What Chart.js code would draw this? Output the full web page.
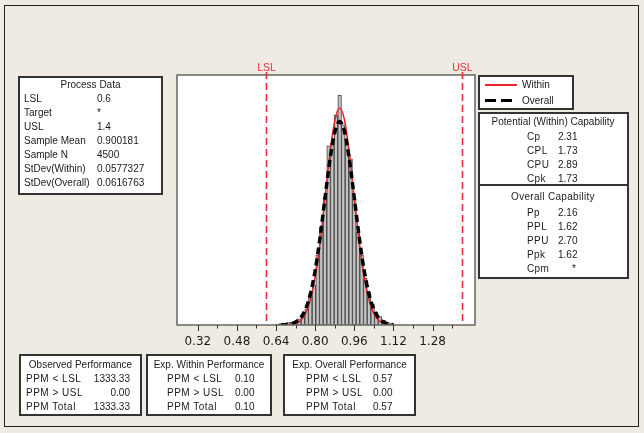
<!DOCTYPE html>
<html>
<head>
<meta charset="utf-8">
<script src="https://cdn.jsdelivr.net/npm/chart.js@4.4.1/dist/chart.umd.min.js"></script>
<style>
  html, body { margin:0; padding:0; background:#f0ebe2; }
  #wrap { position:relative; width:644px; height:433px; overflow:hidden; font-family:"Liberation Sans", Arial, sans-serif; color:#1a1a1a; }
  .box { position:absolute; background:#fff; border:2px solid #333; box-sizing:border-box; }
  .t { position:absolute; font-size:10px; line-height:12px; white-space:nowrap; }
  canvas { position:absolute; left:0; top:0; }
</style>
</head>
<body>
<div id="wrap">
  <div style="position:absolute;left:4px;top:5px;width:635px;height:422px;border:1px solid #222;box-sizing:border-box;"></div>
  <canvas id="c" width="644" height="433"></canvas>
</div>
<script>
// ---- data ----
const binCenters = [0.645,0.660,0.675,0.690,0.705,0.720,0.735,0.750,0.765,0.780,0.795,0.810,0.825,0.840,0.855,0.870,0.885,0.900,0.915,0.930,0.945,0.960,0.975,0.990,1.005,1.020,1.035,1.050,1.065,1.080,1.095,1.110];
const binCounts  = [2,3,4,5,6,8,13,22,35,60,86,150,210,275,385,390,451,494,430,390,357,270,200,150,100,70,45,28,18,10,6,3];
const withinX = [0.70,0.72,0.74,0.76,0.78,0.80,0.82,0.84,0.86,0.88,0.90,0.92,0.94,0.96,0.98,1.00,1.02,1.04,1.06,1.08,1.10,1.12];
const withinY = [1.1,3.6,10,24,54,104,177,271,366,438,466,440,367,272,179,105,54,25,10,3.6,1.2,0.3];
const overallX = [0.66,0.68,0.70,0.72,0.74,0.76,0.78,0.80,0.82,0.84,0.86,0.88,0.90,0.92,0.94,0.96,0.98,1.00,1.02,1.04,1.06,1.08,1.10,1.12];
const overallY = [0.2,0.8,2.3,6.2,15,33,66,117,188,272,353,414,437,415,355,273,189,118,66,33,15,6,2.3,0.8];
const majorTicks = [0.32,0.48,0.64,0.80,0.96,1.12,1.28];
const minorTicks = [0.40,0.56,0.72,0.88,1.04,1.20,1.36];
const specLabels = ["LSL","USL"];
const specValues = [0.6,1.4];

const processLabels = ["LSL","Target","USL","Sample Mean","Sample N","StDev(Within)","StDev(Overall)"];
const processValues = ["0.6","*","1.4","0.900181","4500","0.0577327","0.0616763"];
const withinCapLabels = ["Cp","CPL","CPU","Cpk"];
const withinCapValues = ["2.31","1.73","2.89","1.73"];
const overallCapLabels = ["Pp","PPL","PPU","Ppk","Cpm"];
const overallCapValues = ["2.16","1.62","2.70","1.62","*"];
const perfLabels = ["PPM < LSL","PPM > USL","PPM Total"];
const observedPerf = ["1333.33","0.00","1333.33"];
const withinPerf = ["0.10","0.00","0.10"];
const overallPerf = ["0.57","0.00","0.57"];

// ---- html tables ----
const wrap = document.getElementById('wrap');
function box(l,t,w,h){ const d=document.createElement('div'); d.className='box'; Object.assign(d.style,{left:l+'px',top:t+'px',width:w+'px',height:h+'px'}); wrap.appendChild(d); return d; }
function txt(s,x,y,align,ls){ const d=document.createElement('div'); d.className='t'; d.textContent=s;
  d.style.top=(y-6)+'px';
  if(ls) d.style.letterSpacing=ls+'px';
  if(align==='center'){ d.style.left=(x-100)+'px'; d.style.width='200px'; d.style.textAlign='center'; }
  else if(align==='right'){ d.style.left=(x-100)+'px'; d.style.width='100px'; d.style.textAlign='right'; }
  else d.style.left=x+'px';
  wrap.appendChild(d); }

// Process data
box(18,76,145,119);
txt("Process Data",90.5,85,'center');
processLabels.forEach((l,i)=>{ const y=99.3+i*14; txt(l,24,y); txt(processValues[i],97,y); });

// Legend
box(478,75,96,35);
(function(){ const r=document.createElement('div'); Object.assign(r.style,{position:'absolute',left:'485px',top:'84px',width:'32px',height:'0',borderTop:'2px solid #e8262b'}); wrap.appendChild(r);
  const b=document.createElement('div'); Object.assign(b.style,{position:'absolute',left:'485px',top:'99px',width:'32px',height:'3px',background:'repeating-linear-gradient(90deg,#000 0 11px,transparent 11px 16px)'}); wrap.appendChild(b); })();
txt("Within",522,85); txt("Overall",522,101);

// Capability
box(478,112,151,167);
const sep=document.createElement('div'); Object.assign(sep.style,{position:'absolute',left:'478px',top:'184px',width:'151px',height:'2px',background:'#333'}); wrap.appendChild(sep);
txt("Potential (Within) Capability",553,122,'center');
withinCapLabels.forEach((l,i)=>{ const y=136.7+i*14; txt(l,527,y,null,0.4); txt(withinCapValues[i],558,y); });
txt("Overall Capability",553,197,'center',0.3);
overallCapLabels.forEach((l,i)=>{ const y=213.3+i*14; txt(l,527,y,null,0.4); if(overallCapValues[i]==='*') txt('*',572,y); else txt(overallCapValues[i],558,y); });

// Bottom performance boxes
function perf(l,w,title,labelX,valX,vals,rightAlign){
  box(l,354,w,62);
  txt(title,l+w/2,365,'center');
  perfLabels.forEach((p,i)=>{ const y=379.3+i*14; txt(p,labelX,y,null,0.5); if(rightAlign) txt(vals[i],valX,y,'right'); else txt(vals[i],valX,y); });
}
perf(19,123,"Observed Performance",26,130,observedPerf,true);
perf(146,126,"Exp. Within Performance",167,235,withinPerf,false);
perf(283,133,"Exp. Overall Performance",306,373,overallPerf,false);

// ---- chart ----
const specPlugin = {
  id:'spec',
  beforeDatasetsDraw(chart){
    const {ctx, chartArea:a} = chart;
    ctx.save(); ctx.fillStyle='#fff'; ctx.fillRect(a.left,a.top,a.right-a.left,a.bottom-a.top); ctx.restore();
  },
  afterDatasetsDraw(chart){
    const {ctx, chartArea:a, scales:{x}} = chart;
    ctx.save();
    ctx.strokeStyle='#666'; ctx.lineWidth=1.5;
    ctx.strokeRect(a.left,a.top,a.right-a.left,a.bottom-a.top);
    specValues.forEach((v,i)=>{
      const px=Math.round(x.getPixelForValue(v))+0.5;
      ctx.strokeStyle='#e8303a'; ctx.lineWidth=1.6; ctx.setLineDash([7,4]);
      ctx.beginPath(); ctx.moveTo(px,a.top-3); ctx.lineTo(px,a.bottom); ctx.stroke();
      ctx.setLineDash([]);
      ctx.fillStyle='#e8303a'; ctx.font='10.5px "Liberation Sans", Arial, sans-serif';
      ctx.textAlign='center'; ctx.textBaseline='middle';
      ctx.fillText(specLabels[i],px,a.top-7);
    });
    ctx.strokeStyle='#333'; ctx.lineWidth=1;
    majorTicks.forEach(v=>{ const px=Math.round(x.getPixelForValue(v))+0.5; ctx.beginPath(); ctx.moveTo(px,a.bottom); ctx.lineTo(px,a.bottom+6); ctx.stroke(); });
    minorTicks.forEach(v=>{ const px=Math.round(x.getPixelForValue(v))+0.5; ctx.beginPath(); ctx.moveTo(px,a.bottom); ctx.lineTo(px,a.bottom+3.5); ctx.stroke(); });
    ctx.restore();
  }
};

new Chart(document.getElementById('c'), {
  data: {
    datasets: [
      { type:'line', label:'Overall', data: overallX.map((v,i)=>({x:v,y:overallY[i]})), borderColor:'#000', borderWidth:3.5, borderDash:[7,4], pointRadius:0, cubicInterpolationMode:'monotone', fill:false, order:0 },
      { type:'line', label:'Within', data: withinX.map((v,i)=>({x:v,y:withinY[i]})), borderColor:'#e8262b', borderWidth:1.6, pointRadius:0, cubicInterpolationMode:'monotone', fill:false, order:1 },
      { type:'bar', label:'Data', data: binCenters.map((v,i)=>({x:v,y:binCounts[i]})), backgroundColor:'#c4c4c4', borderColor:'#444', borderWidth:1, barPercentage:1, categoryPercentage:1, order:2 }
    ]
  },
  options: {
    responsive:false, animation:false, devicePixelRatio:1,
    layout:{ padding:{ left:177, top:75, right:169, bottom:83 } },
    plugins:{ legend:{display:false}, tooltip:{enabled:false} },
    scales:{
      x:{ type:'linear', min:0.235, max:1.4535, offset:false,
          afterBuildTicks(s){ s.ticks = majorTicks.map(v=>({value:v})); },
          afterFit(s){ s.height = 25; },
          grid:{ display:false, drawTicks:false }, border:{display:false},
          ticks:{ autoSkip:false, maxRotation:0, padding:10, color:'#1a1a1a', font:{family:'"DejaVu Sans", Verdana, sans-serif', size:12},
                  callback:(v)=>Number(v).toFixed(2) } },
      y:{ type:'linear', min:0, max:537, display:false }
    }
  },
  plugins:[specPlugin]
});
</script>
</body>
</html>
